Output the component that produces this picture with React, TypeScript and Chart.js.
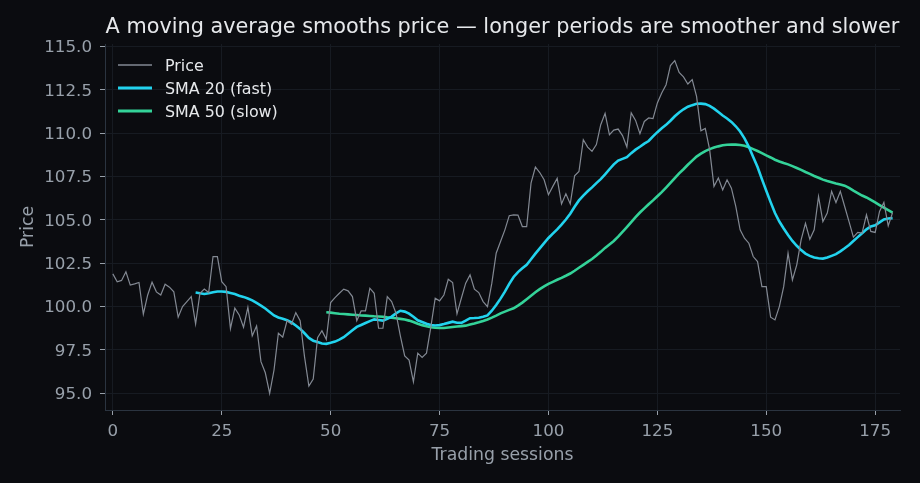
import React, { useEffect, useRef } from "react";
import { Chart, registerables } from "chart.js";

Chart.register(...registerables);

const TITLE = "A moving average smooths price — longer periods are smoother and slower";
const X_LABEL = "Trading sessions";
const Y_LABEL = "Price";
const X_TICKS = [0, 25, 50, 75, 100, 125, 150, 175];
const Y_TICKS = [95, 97.5, 100, 102.5, 105, 107.5, 110, 112.5, 115];
const SERIES_NAMES = ["Price", "SMA 20 (fast)", "SMA 50 (slow)"];

const PRICE = [
  101.88, 101.42, 101.5, 102.0, 101.23, 101.3, 101.38, 99.55, 100.66, 101.4,
  100.84, 100.66, 101.28, 101.11, 100.84, 99.38, 99.99, 100.28, 100.57, 98.99,
  100.76, 101.0, 100.8, 102.88, 102.88, 101.43, 101.14, 98.72, 99.9, 99.51,
  98.8, 99.95, 98.3, 98.87, 96.81, 96.17, 94.98, 96.33, 98.45, 98.22,
  99.18, 98.97, 99.64, 99.18, 97.1, 95.4, 95.8, 98.2, 98.6, 98.1,
  100.22, 100.51, 100.76, 101.0, 100.9, 100.57, 99.18, 99.74, 99.74, 101.05,
  100.76, 98.74, 98.74, 100.57, 100.28, 99.61, 98.3, 97.14, 96.9, 95.65,
  97.3, 97.06, 97.3, 98.8, 100.47, 100.32, 100.66, 101.57, 101.38, 99.57,
  100.47, 101.34, 101.82, 101.0, 100.8, 100.28, 99.99, 101.34, 103.07, 103.75,
  104.42, 105.24, 105.29, 105.27, 104.61, 104.61, 107.12, 108.05, 107.73, 107.31,
  106.45, 106.93, 107.39, 105.92, 106.5, 105.92, 107.54, 107.79, 109.62, 109.2,
  108.95, 109.34, 110.49, 111.15, 109.91, 110.18, 110.24, 109.86, 109.2, 111.17,
  110.74, 109.97, 110.68, 110.88, 110.84, 111.75, 112.32, 112.8, 113.9, 114.19,
  113.51, 113.25, 112.84, 113.09, 112.13, 110.14, 110.28, 109.05, 106.93, 107.41,
  106.73, 107.31, 106.83, 105.77, 104.42, 103.94, 103.65, 102.88, 102.59, 101.14,
  101.14, 99.38, 99.22, 99.99, 101.14, 103.07, 101.53, 102.4, 103.84, 104.8,
  103.88, 104.42, 106.35, 104.9, 105.39, 106.64, 106.0, 106.64, 105.77, 104.9,
  104.0, 104.27, 104.23, 105.29, 104.33, 104.27, 105.48, 106.0, 104.65, 105.42,
];

const SMA20_START = 19;
const SMA20 = [
  100.8, 100.76, 100.72, 100.76, 100.82, 100.86, 100.86, 100.84, 100.78, 100.72,
  100.62, 100.55, 100.46, 100.35, 100.2, 100.05, 99.88, 99.68, 99.48, 99.36,
  99.29, 99.2, 99.08, 98.9, 98.7, 98.45, 98.18, 98.02, 97.95, 97.86,
  97.84, 97.9, 97.97, 98.08, 98.22, 98.42, 98.62, 98.82, 98.93, 99.04,
  99.15, 99.25, 99.22, 99.18, 99.28, 99.41, 99.6, 99.75, 99.7, 99.58,
  99.4, 99.2, 99.1, 99.0, 98.93, 98.9, 98.92, 98.98, 99.05, 99.12,
  99.06, 99.05, 99.18, 99.32, 99.33, 99.35, 99.4, 99.48, 99.75, 100.08,
  100.45, 100.85, 101.3, 101.7, 101.98, 102.2, 102.4, 102.72, 103.05, 103.35,
  103.65, 103.95, 104.2, 104.45, 104.72, 105.02, 105.35, 105.75, 106.12, 106.4,
  106.65, 106.87, 107.12, 107.35, 107.62, 107.92, 108.2, 108.42, 108.52, 108.62,
  108.85, 109.05, 109.22, 109.4, 109.55, 109.82, 110.06, 110.28, 110.48, 110.72,
  110.98, 111.2, 111.38, 111.53, 111.62, 111.7, 111.71, 111.68, 111.58, 111.42,
  111.22, 111.02, 110.85, 110.65, 110.4, 110.1, 109.7, 109.22, 108.62, 108.05,
  107.35, 106.68, 106.02, 105.39, 104.9, 104.5, 104.12, 103.78, 103.5, 103.25,
  103.05, 102.92, 102.82, 102.78, 102.76, 102.82, 102.92, 103.02, 103.18, 103.36,
  103.55, 103.78, 104.0, 104.22, 104.45, 104.62, 104.68, 104.85, 105.02, 105.08,
  105.1,
];

const SMA50_START = 49;
const SMA50 = [
  99.66, 99.64, 99.61, 99.58, 99.56, 99.54, 99.52, 99.5, 99.48, 99.47,
  99.45, 99.43, 99.42, 99.4, 99.37, 99.35, 99.32, 99.28, 99.24, 99.18,
  99.1, 99.0, 98.92, 98.86, 98.8, 98.77, 98.75, 98.75, 98.78, 98.81,
  98.84, 98.86, 98.89, 98.95, 99.01, 99.08, 99.16, 99.25, 99.35, 99.47,
  99.6, 99.7, 99.8, 99.89, 100.05, 100.22, 100.42, 100.62, 100.82, 101.0,
  101.16, 101.3, 101.42, 101.54, 101.65, 101.77, 101.9, 102.06, 102.23, 102.4,
  102.57, 102.74, 102.94, 103.15, 103.38, 103.58, 103.78, 104.03, 104.3, 104.58,
  104.86, 105.15, 105.42, 105.66, 105.9, 106.12, 106.36, 106.6, 106.86, 107.13,
  107.41, 107.68, 107.92, 108.18, 108.42, 108.65, 108.82, 108.97, 109.08, 109.17,
  109.24, 109.3, 109.33, 109.34, 109.34, 109.32, 109.28, 109.19, 109.08, 108.97,
  108.85, 108.72, 108.6, 108.47, 108.37, 108.28, 108.2, 108.1, 107.99, 107.88,
  107.76, 107.65, 107.53, 107.43, 107.32, 107.24, 107.17, 107.1, 107.04, 106.97,
  106.84, 106.68, 106.54, 106.4, 106.29, 106.15, 106.0, 105.85, 105.7, 105.56,
  105.42,
];

const COLORS = ["#838993", "#22d3ee", "#34d399"];
const WIDTHS = [1.2, 2.6, 2.6];
const BG = "#0b0c10";
const TEXT = "#e6e8eb";
const MUTED = "#98a0aa";
const GRID = "#171b22";
const SPINE = "#2b3440";
const FONT = "'DejaVu Sans', sans-serif";

const overlay = {
  id: "overlay",
  afterDraw(chart: any) {
    const { ctx, chartArea } = chart;
    ctx.save();
    ctx.fillStyle = TEXT;
    ctx.font = `20.8px ${FONT}`;
    ctx.textAlign = "center";
    ctx.textBaseline = "middle";
    ctx.fillText(TITLE, (chartArea.left + chartArea.right) / 2, 28);

    ctx.font = `15.9px ${FONT}`;
    ctx.textAlign = "left";
    const rows = [65, 88, 111];
    SERIES_NAMES.forEach((name, k) => {
      const y = rows[k];
      ctx.strokeStyle = COLORS[k];
      ctx.lineWidth = k === 0 ? 1.6 : 2.8;
      ctx.beginPath();
      ctx.moveTo(118, y);
      ctx.lineTo(152, y);
      ctx.stroke();
      ctx.fillStyle = TEXT;
      ctx.fillText(name, 165, y + 1.5);
    });
    ctx.restore();
  },
};

export default function App() {
  const ref = useRef<HTMLCanvasElement>(null);

  useEffect(() => {
    if (!ref.current) return;
    const toPts = (arr: number[], start: number) =>
      arr.map((v, i) => ({ x: start + i, y: v }));
    const chart = new Chart(ref.current, {
      type: "line",
      data: {
        datasets: [
          { label: SERIES_NAMES[0], data: toPts(PRICE, 0), borderColor: COLORS[0], borderWidth: WIDTHS[0], pointRadius: 0, tension: 0 },
          { label: SERIES_NAMES[1], data: toPts(SMA20, SMA20_START), borderColor: COLORS[1], borderWidth: WIDTHS[1], pointRadius: 0, tension: 0 },
          { label: SERIES_NAMES[2], data: toPts(SMA50, SMA50_START), borderColor: COLORS[2], borderWidth: WIDTHS[2], pointRadius: 0, tension: 0 },
        ],
      },
      options: {
        responsive: false,
        animation: false,
        events: [],
        layout: { padding: { top: 44, right: 20, left: 0, bottom: 0 } },
        plugins: { legend: { display: false }, title: { display: false }, tooltip: { enabled: false } },
        scales: {
          x: {
            type: "linear",
            min: -1.8,
            max: 180.7,
            afterFit: (s: any) => { s.height = 73; },
            afterBuildTicks: (s: any) => { s.ticks = X_TICKS.map((v) => ({ value: v })); },
            grid: { color: GRID, tickColor: MUTED, tickLength: 5, drawTicks: true, lineWidth: 1 },
            border: { display: true, color: SPINE, width: 1 },
            ticks: { color: MUTED, font: { family: FONT, size: 16.7 }, padding: 6.5, maxRotation: 0, callback: (v: any) => String(v) },
            title: { display: true, text: X_LABEL, color: MUTED, font: { family: FONT, size: 17.3 }, padding: { top: 4, bottom: 17 } },
          },
          y: {
            type: "linear",
            min: 94.02,
            max: 115.15,
            afterFit: (s: any) => { s.width = 105; },
            afterBuildTicks: (s: any) => { s.ticks = Y_TICKS.map((v) => ({ value: v })); },
            grid: { color: GRID, tickColor: MUTED, tickLength: 5, drawTicks: true, lineWidth: 1 },
            border: { display: true, color: SPINE, width: 1 },
            ticks: { color: MUTED, font: { family: FONT, size: 16.7 }, padding: 8, labelOffset: 1.5, callback: (v: any) => Number(v).toFixed(1) },
            title: { display: true, text: Y_LABEL, color: MUTED, font: { family: FONT, size: 17.3 }, padding: { top: 18, bottom: 4 } },
          },
        },
      },
      plugins: [overlay],
    } as any);
    return () => chart.destroy();
  }, []);

  return (
    <div style={{ position: "fixed", left: 0, top: 0, width: 920, height: 483, background: BG }}>
      <canvas ref={ref} width={920} height={483} style={{ display: "block", width: 920, height: 483 }} />
    </div>
  );
}
